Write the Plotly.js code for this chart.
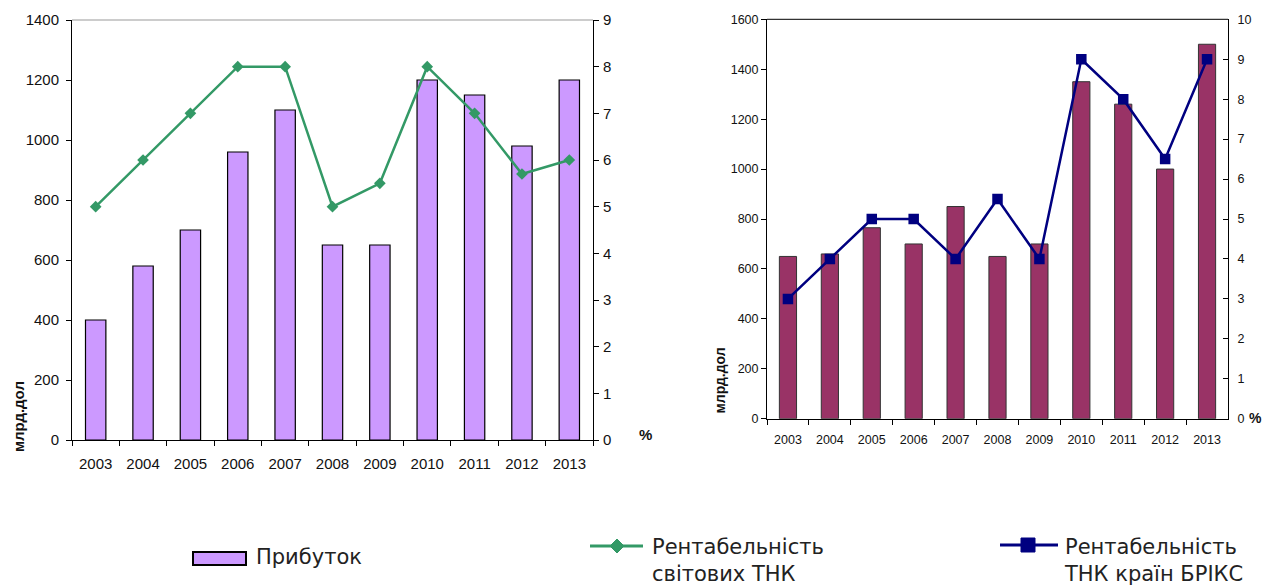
<!DOCTYPE html>
<html>
<head>
<meta charset="utf-8">
<script src="https://cdn.plot.ly/plotly-3.0.1.min.js"></script>
<style>html,body{margin:0;padding:0;background:#fff;}#chart{width:1266px;height:587px;}</style>
</head>
<body>
<div id="chart"></div>
<script>
// ---- data ----
const years = ['2003','2004','2005','2006','2007','2008','2009','2010','2011','2012','2013'];
const profitWorld = [400, 580, 700, 960, 1100, 650, 650, 1200, 1150, 980, 1200];
const rentWorld = [5, 6, 7, 8, 8, 5, 5.5, 8, 7, 5.7, 6];
const profitBrics = [650, 660, 765, 700, 850, 650, 700, 1350, 1260, 1000, 1500];
const rentBrics = [3, 4, 5, 5, 4, 5.5, 4, 9, 8, 6.5, 9];
const legendLabels = ['Прибуток', 'Рентабельність<br>світових ТНК', 'Рентабельність<br>ТНК країн БРІКС'];
const unitLabel = 'млрд.дол';
const pctLabel = '%';

// ---- helpers (pixel -> paper) ----
const W = 1266, H = 587;
const px = x => x / W;
const py = y => 1 - y / H;

const FONT = 'Liberation Sans, Arial, sans-serif';
const LFONT = 'DejaVu Sans, Liberation Sans, sans-serif';
const green = '#339966', navy = '#000080', lilac = '#CC99FF', maroon = '#993366';

const traces = [
  {type:'bar', x: years, y: profitWorld, xaxis:'x', yaxis:'y', width:0.43,
   marker:{color:lilac, line:{color:'#000', width:1.2}}, name: 'Прибуток', showlegend:false},
  {type:'scatter', mode:'lines+markers', x: years, y: rentWorld, xaxis:'x', yaxis:'y2',
   line:{color:green, width:2.5}, marker:{symbol:'diamond', size:9, color:green}, showlegend:false},
  {type:'bar', x: years, y: profitBrics, xaxis:'x2', yaxis:'y3', width:0.41,
   marker:{color:maroon, line:{color:'#333', width:1}}, showlegend:false},
  {type:'scatter', mode:'lines+markers', x: years, y: rentBrics, xaxis:'x2', yaxis:'y4',
   line:{color:navy, width:2.5}, marker:{symbol:'square', size:10.5, color:navy}, showlegend:false}
];

const axBase = {showgrid:false, zeroline:false, showline:true, linecolor:'#000', linewidth:1,
  tickcolor:'#000', ticklen:5, tickwidth:1, fixedrange:true, automargin:false};

const lf = {family:FONT, size:15, color:'#111'};
const rf = {family:FONT, size:12.5, color:'#111'};

// cross-tick overlay axes (ticks only)
const tickOnly = {showgrid:false, zeroline:false, showline:false, showticklabels:false,
  ticks:'inside', tickcolor:'#000', ticklen:5, tickwidth:1, fixedrange:true, automargin:false};

const layout = {
  width: W, height: H,
  margin:{l:0, r:0, t:0, b:0},
  paper_bgcolor:'#fff', plot_bgcolor:'rgba(0,0,0,0)',
  showlegend:false,
  font:{family:FONT, color:'#111'},
  xaxis: Object.assign({}, axBase, {domain:[px(72), px(593)], anchor:'y', type:'category',
    range:[-0.5,10.5], tickson:'boundaries', ticks:'outside', tickfont:lf, ticklabelstandoff:10}),
  yaxis: Object.assign({}, axBase, {domain:[py(440), py(20)], anchor:'x', range:[0,1400],
    dtick:200, ticks:'outside', tickfont:lf, ticklabelstandoff:4}),
  yaxis2: Object.assign({}, axBase, {overlaying:'y', side:'right', anchor:'x', range:[0,9],
    dtick:1, ticks:'outside', tickfont:lf, ticklabelstandoff:1}),
  xaxis2: Object.assign({}, axBase, {domain:[px(767), px(1228)], anchor:'y3', type:'category',
    range:[-0.5,10.5], tickson:'boundaries', ticks:'outside', tickfont:rf, ticklabelstandoff:9}),
  yaxis3: Object.assign({}, axBase, {domain:[py(418.7), py(19.3)], anchor:'x2', range:[0,1600],
    dtick:200, ticks:'outside', tickfont:rf}),
  yaxis4: Object.assign({}, axBase, {overlaying:'y3', side:'right', anchor:'x2', range:[0,10],
    dtick:1, ticks:'inside', tickfont:rf, ticklabelstandoff:6}),
  // overlay axes for the inward half of cross ticks
  xaxis3: Object.assign({}, tickOnly, {overlaying:'x', anchor:'y', range:[-0.5,10.5], tick0:-0.5, dtick:1}),
  yaxis5: Object.assign({}, tickOnly, {overlaying:'y', side:'right', anchor:'x', range:[0,9], dtick:1}),
  xaxis4: Object.assign({}, tickOnly, {overlaying:'x2', anchor:'y3', range:[-0.5,10.5], tick0:-0.5, dtick:1}),
  shapes: [
    // top borders of plot areas
    {type:'line', xref:'paper', yref:'paper', x0:px(72), x1:px(593), y0:py(20), y1:py(20), line:{color:'#999', width:1}},
    {type:'line', xref:'paper', yref:'paper', x0:px(767), x1:px(1228), y0:py(19.3), y1:py(19.3), line:{color:'#000', width:1}},
    // legend symbols
    {type:'rect', xref:'paper', yref:'paper', x0:px(193), x1:px(246), y0:py(565), y1:py(552), fillcolor:lilac, line:{color:'#000', width:2}},
    {type:'line', xref:'paper', yref:'paper', x0:px(590), x1:px(643), y0:py(546), y1:py(546), line:{color:green, width:3}},
    {type:'path', xref:'paper', yref:'paper', fillcolor:green, line:{color:green, width:1},
      path:`M ${px(617)} ${py(539)} L ${px(624)} ${py(546)} L ${px(617)} ${py(553)} L ${px(610)} ${py(546)} Z`},
    {type:'line', xref:'paper', yref:'paper', x0:px(1000), x1:px(1058), y0:py(545), y1:py(545), line:{color:navy, width:3}},
    {type:'rect', xref:'paper', yref:'paper', x0:px(1021), x1:px(1035), y0:py(552), y1:py(538), fillcolor:navy, line:{color:navy, width:1}}
  ],
  annotations: [
    {xref:'paper', yref:'paper', x:px(18), y:py(417), text:'<b>'+unitLabel+'</b>', textangle:-90,
      showarrow:false, xanchor:'center', yanchor:'middle', font:{family:FONT, size:15, color:'#111'}},
    {xref:'paper', yref:'paper', x:px(645), y:py(434), text:'<b>'+pctLabel+'</b>',
      showarrow:false, xanchor:'center', yanchor:'middle', font:{family:FONT, size:15, color:'#111'}},
    {xref:'paper', yref:'paper', x:px(719.5), y:py(381), text:'<b>'+unitLabel+'</b>', textangle:-90,
      showarrow:false, xanchor:'center', yanchor:'middle', font:{family:FONT, size:14, color:'#111'}},
    {xref:'paper', yref:'paper', x:px(1255), y:py(418), text:'<b>'+pctLabel+'</b>',
      showarrow:false, xanchor:'center', yanchor:'middle', font:{family:FONT, size:14, color:'#111'}},
    {xref:'paper', yref:'paper', x:px(254), y:py(557), text:legendLabels[0],
      showarrow:false, xanchor:'left', yanchor:'middle', font:{family:LFONT, size:21, color:'#222'}},
    {xref:'paper', yref:'paper', x:px(650), y:py(560), text:legendLabels[1], align:'left',
      showarrow:false, xanchor:'left', yanchor:'middle', font:{family:LFONT, size:21, color:'#222'}},
    {xref:'paper', yref:'paper', x:px(1062), y:py(560), text:legendLabels[2], align:'left',
      showarrow:false, xanchor:'left', yanchor:'middle', font:{family:LFONT, size:21, color:'#222'}}
  ]
};

Plotly.newPlot('chart', traces, layout, {displayModeBar:false, staticPlot:true});
</script>
</body>
</html>
